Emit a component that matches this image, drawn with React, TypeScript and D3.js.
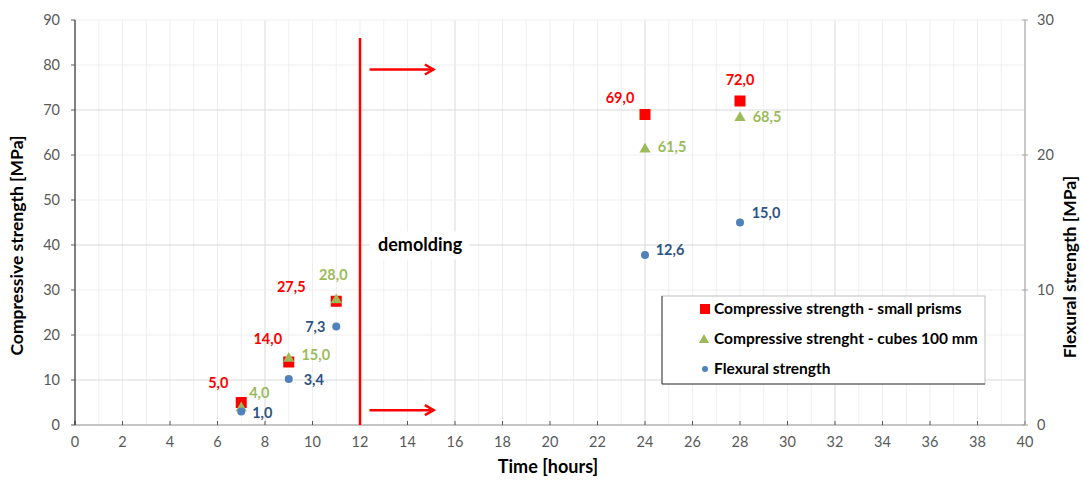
import React, { useEffect, useRef } from "react";
import * as d3 from "d3";

// time in hours
const hours = [7, 9, 11, 24, 28];
const prismValues = [5.0, 14.0, 27.5, 69.0, 72.0];
const cubeValues = [4.0, 15.0, 28.0, 61.5, 68.5];
const flexValues = [1.0, 3.4, 7.3, 12.6, 15.0];

const seriesNames = [
  "Compressive strength - small prisms",
  "Compressive strenght - cubes 100 mm",
  "Flexural strength",
];

const xTicks = d3.range(0, 41, 2);
const leftTicks = d3.range(0, 91, 10);
const rightTicks = [0, 10, 20, 30];

// annotation: demolding at 12 h
const demoldTime = 12;
const demoldTop = 86;
const arrowFrom = 12.4;
const arrowTo = 15.1;
const arrowLevels = [79, 3.3];

// label offsets (px) per point
const prismLabelOff = [[-23, -20], [-21, -23], [-45, -14], [-25, -17], [0, -21]];
const cubeLabelOff = [[18, -14], [27, -3], [-3, -24], [27, -1], [27, 0]];
const flexLabelOff = [[21, 1], [25, 1], [-21, 0], [25, -5], [26, -10]];

const fmt = (v: number) => v.toFixed(1).replace(".", ",");

const W = 1083;
const H = 480;
const FONT = "Lato, 'Open Sans', sans-serif";

const App = () => {
  const svgRef = useRef<SVGSVGElement>(null);

  useEffect(() => {
    const svg = d3.select(svgRef.current);
    svg.selectAll("*").remove();

    const x = d3.scaleLinear().domain([0, 40]).range([75, 1025]);
    const y = d3.scaleLinear().domain([0, 90]).range([425, 20]);
    const y2 = d3.scaleLinear().domain([0, 30]).range([425, 20]);

    svg.append("rect").attr("width", W).attr("height", H).attr("fill", "#fff");

    // vertical grid, every hour, darker every 8
    svg.append("g")
      .selectAll("line")
      .data(d3.range(1, 41))
      .enter()
      .append("line")
      .attr("x1", (d) => x(d))
      .attr("x2", (d) => x(d))
      .attr("y1", y(90))
      .attr("y2", y(0))
      .attr("stroke", (d) => (d % 8 === 0 ? "#d9d9d9" : "#efefef"))
      .attr("stroke-width", 1);

    // horizontal grid
    svg.append("g")
      .selectAll("line")
      .data(leftTicks.filter((d) => d > 0))
      .enter()
      .append("line")
      .attr("x1", x(0))
      .attr("x2", x(40))
      .attr("y1", (d) => y(d))
      .attr("y2", (d) => y(d))
      .attr("stroke", (d) => (d % 30 === 10 ? "#d9d9d9" : "#efefef"))
      .attr("stroke-width", 1);

    // x axis
    svg.append("line")
      .attr("x1", x(0)).attr("x2", x(40))
      .attr("y1", y(0)).attr("y2", y(0))
      .attr("stroke", "#8c8c8c");
    svg.append("g")
      .selectAll("line")
      .data(xTicks)
      .enter()
      .append("line")
      .attr("x1", (d) => x(d)).attr("x2", (d) => x(d))
      .attr("y1", y(0)).attr("y2", y(0) - 4)
      .attr("stroke", "#595959");
    svg.append("g")
      .selectAll("text")
      .data(xTicks)
      .enter()
      .append("text")
      .attr("x", (d) => x(d))
      .attr("y", y(0) + 22)
      .attr("text-anchor", "middle")
      .attr("font-size", 14.5)
      .attr("fill", "#595959")
      .text((d) => d);

    // left axis
    svg.append("line")
      .attr("x1", x(0)).attr("x2", x(0))
      .attr("y1", y(90)).attr("y2", y(0))
      .attr("stroke", "#000");
    svg.append("g")
      .selectAll("line")
      .data(leftTicks)
      .enter()
      .append("line")
      .attr("x1", x(0) - 4).attr("x2", x(0))
      .attr("y1", (d) => y(d)).attr("y2", (d) => y(d))
      .attr("stroke", "#595959");
    svg.append("g")
      .selectAll("text")
      .data(leftTicks)
      .enter()
      .append("text")
      .attr("x", x(0) - 15)
      .attr("y", (d) => y(d))
      .attr("dy", "0.35em")
      .attr("text-anchor", "end")
      .attr("font-size", 14.5)
      .attr("fill", "#595959")
      .text((d) => d);

    // right axis
    svg.append("line")
      .attr("x1", x(40)).attr("x2", x(40))
      .attr("y1", y2(30)).attr("y2", y2(0))
      .attr("stroke", "#a6a6a6");
    svg.append("g")
      .selectAll("line")
      .data(rightTicks)
      .enter()
      .append("line")
      .attr("x1", x(40) - 3).attr("x2", x(40) + 3)
      .attr("y1", (d) => y2(d)).attr("y2", (d) => y2(d))
      .attr("stroke", "#a6a6a6");
    svg.append("g")
      .selectAll("text")
      .data(rightTicks)
      .enter()
      .append("text")
      .attr("x", x(40) + 12)
      .attr("y", (d) => y2(d))
      .attr("dy", "0.35em")
      .attr("text-anchor", "start")
      .attr("font-size", 14.5)
      .attr("fill", "#595959")
      .text((d) => d);

    // axis titles
    svg.append("text")
      .attr("transform", `translate(23,${y(45) + 23}) rotate(-90)`)
      .attr("text-anchor", "middle")
      .attr("font-size", 17.5)
      .attr("font-weight", "bold")
      .attr("fill", "#000")
      .text("Compressive strength  [MPa]");
    svg.append("text")
      .attr("transform", `translate(1076,267) rotate(-90)`)
      .attr("text-anchor", "middle")
      .attr("font-size", 17.5)
      .attr("font-weight", "bold")
      .attr("fill", "#000")
      .text("Flexural strength [MPa]");
    svg.append("text")
      .attr("x", 548)
      .attr("y", 473)
      .attr("text-anchor", "middle")
      .attr("font-size", 18)
      .attr("font-weight", "bold")
      .attr("fill", "#000")
      .text("Time [hours]");

    // demolding line + arrows
    svg.append("defs")
      .append("marker")
      .attr("id", "arr")
      .attr("viewBox", "0 0 10 10")
      .attr("refX", 8)
      .attr("refY", 5)
      .attr("markerWidth", 5)
      .attr("markerHeight", 5)
      .attr("orient", "auto")
      .append("path")
      .attr("d", "M1,1 L8,5 L1,9")
      .attr("fill", "none")
      .attr("stroke", "#ff0000")
      .attr("stroke-width", 2);

    svg.append("line")
      .attr("x1", x(demoldTime)).attr("x2", x(demoldTime))
      .attr("y1", y(demoldTop)).attr("y2", y(0))
      .attr("stroke", "#ff0000")
      .attr("stroke-width", 2.5);
    svg.append("g")
      .selectAll("line")
      .data(arrowLevels)
      .enter()
      .append("line")
      .attr("x1", x(arrowFrom)).attr("x2", x(arrowTo))
      .attr("y1", (d) => y(d)).attr("y2", (d) => y(d))
      .attr("stroke", "#ff0000")
      .attr("stroke-width", 2.5)
      .attr("marker-end", "url(#arr)");

    svg.append("rect")
      .attr("x", x(12.4)).attr("y", y(43))
      .attr("width", 100).attr("height", 28)
      .attr("fill", "#fff");
    svg.append("text")
      .attr("x", x(12.8) - 1)
      .attr("y", y(40))
      .attr("dy", "0.35em")
      .attr("font-size", 18)
      .attr("font-weight", "bold")
      .attr("fill", "#000")
      .text("demolding");

    // markers
    const sq = 11;
    svg.append("g")
      .selectAll("rect")
      .data(hours)
      .enter()
      .append("rect")
      .attr("x", (d) => x(d) - sq / 2)
      .attr("y", (d, i) => y(prismValues[i]) - sq / 2)
      .attr("width", sq)
      .attr("height", sq)
      .attr("fill", "#ff0000");

    const tri = d3.symbol().type(d3.symbolTriangle).size(55);
    svg.append("g")
      .selectAll("path")
      .data(hours)
      .enter()
      .append("path")
      .attr("d", tri)
      .attr("transform", (d, i) => `translate(${x(d)},${y(cubeValues[i]) + 1})`)
      .attr("fill", "#9bbb59");

    svg.append("g")
      .selectAll("circle")
      .data(hours)
      .enter()
      .append("circle")
      .attr("cx", (d) => x(d))
      .attr("cy", (d, i) => y2(flexValues[i]))
      .attr("r", 4)
      .attr("fill", "#4f81bd");

    // data labels
    const labels = (vals: number[], off: number[][], yS: any, color: string) => {
      svg.append("g")
        .selectAll("text")
        .data(hours)
        .enter()
        .append("text")
        .attr("x", (d, i) => x(d) + off[i][0])
        .attr("y", (d, i) => yS(vals[i]) + off[i][1])
        .attr("dy", "0.35em")
        .attr("text-anchor", "middle")
        .attr("font-size", 14.5)
        .attr("font-weight", "bold")
        .attr("fill", color)
        .text((d, i) => fmt(vals[i]));
    };
    labels(prismValues, prismLabelOff, y, "#ff0000");
    labels(cubeValues, cubeLabelOff, y, "#9bbb59");
    labels(flexValues, flexLabelOff, y2, "#2e5486");

    // legend
    const lg = svg.append("g").attr("transform", "translate(662,296)");
    lg.append("rect")
      .attr("width", 323).attr("height", 88)
      .attr("fill", "#fff")
      .attr("stroke", "#bfbfbf");
    lg.append("line").attr("x1", 0).attr("x2", 0).attr("y1", 0).attr("y2", 88).attr("stroke", "#404040");
    lg.append("line").attr("x1", 0).attr("x2", 323).attr("y1", 88).attr("y2", 88).attr("stroke", "#404040");

    const rows = [13, 43, 73];
    lg.append("rect").attr("x", 38).attr("y", rows[0] - 5).attr("width", 10).attr("height", 10).attr("fill", "#ff0000");
    lg.append("path").attr("d", d3.symbol().type(d3.symbolTriangle).size(45)).attr("transform", `translate(42,${rows[1] + 1})`).attr("fill", "#9bbb59");
    lg.append("circle").attr("cx", 43).attr("cy", rows[2]).attr("r", 3).attr("fill", "#4f81bd");
    lg.selectAll("text.leg")
      .data(seriesNames)
      .enter()
      .append("text")
      .attr("x", 52)
      .attr("y", (d, i) => rows[i])
      .attr("dy", "0.35em")
      .attr("font-size", 15.5)
      .attr("font-weight", "bold")
      .attr("fill", "#000")
      .text((d) => d);
  }, []);

  return (
    <svg
      ref={svgRef}
      width={W}
      height={H}
      style={{ position: "absolute", left: 0, top: 0, fontFamily: FONT }}
    ></svg>
  );
};

export default App;
